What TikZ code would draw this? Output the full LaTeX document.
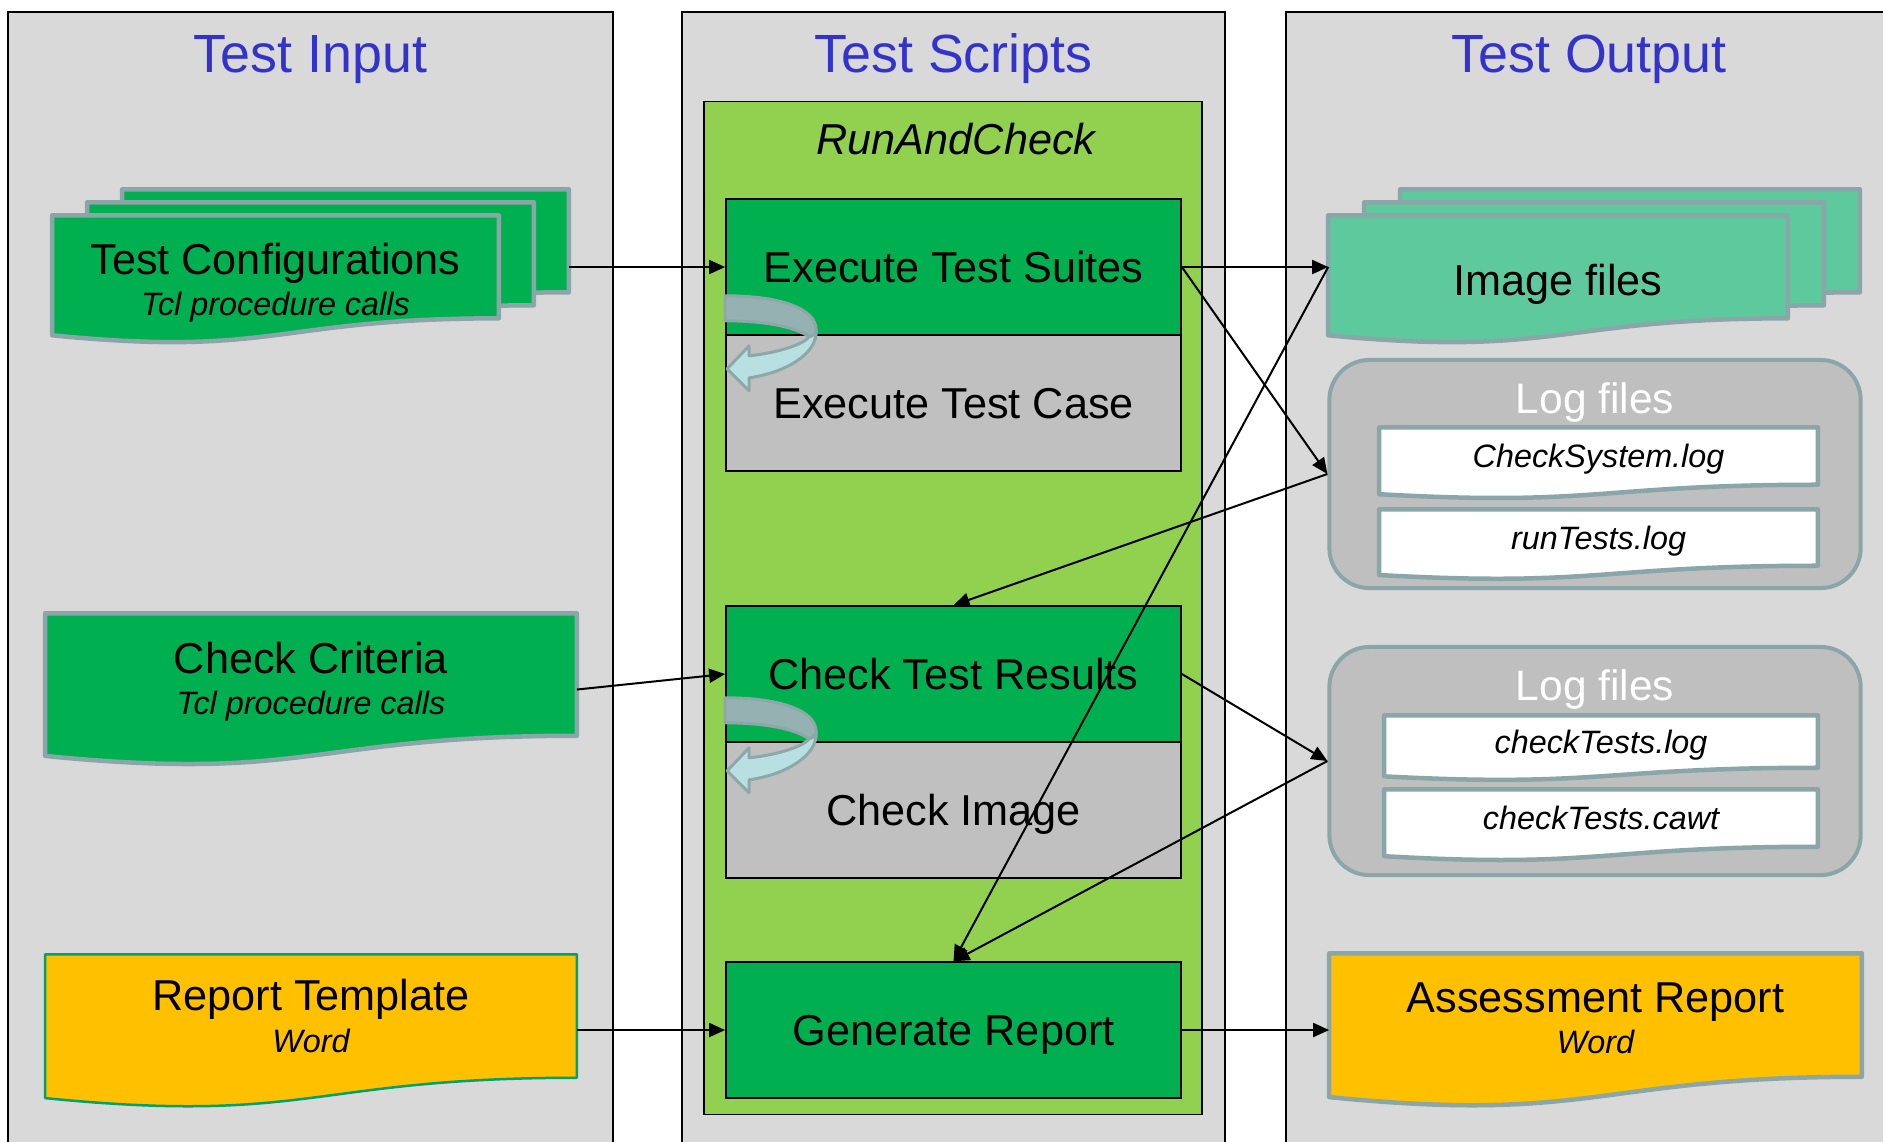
\documentclass[tikz,border=0pt]{standalone}
\usepackage{fontspec}
\setmainfont{Liberation Sans}
\usetikzlibrary{arrows.meta}
\usetikzlibrary{calc}

\definecolor{panelgray}{HTML}{D9D9D9}
\definecolor{titleblue}{HTML}{3333CC}
\definecolor{scriptgreen}{HTML}{92D050}
\definecolor{stepgreen}{HTML}{00B050}
\definecolor{casegray}{HTML}{C0C0C0}
\definecolor{sheetline}{HTML}{8AA6A8}
\definecolor{imagegreen}{HTML}{5FC99E}
\definecolor{loggray}{HTML}{BFBFBF}
\definecolor{wordyellow}{HTML}{FFC000}
\definecolor{templateline}{HTML}{00A070}
\definecolor{turnback}{HTML}{95B1B1}
\definecolor{turnfront}{HTML}{B8E0E2}
\definecolor{turnline}{HTML}{8EA8AA}

\pgfdeclarelayer{back}
\pgfdeclarelayer{sheets}
\pgfsetlayers{back,sheets,main}

\newcommand\headfont{\fontsize{15.3}{16}\selectfont}
\newcommand\stepfont{\fontsize{12.3}{11.7}\selectfont}
\newcommand\notefont{\fontsize{9.2}{11}\selectfont\itshape}
\newcommand\logfont{\fontsize{12.1}{13}\selectfont}
\newcommand\filefont{\fontsize{9.2}{11}\selectfont\itshape}
% lower the ink of a line, keep its box
\newcommand\sunk[2][0.03cm]{\raisebox{-#1}[\height][\depth]{#2}}

% sheet with a wavy lower edge, drawn from the anchors of a node
\newcommand\docwave[5]{%
  \draw[#2] (#1.north west) -- (#1.north east)
    -- ($(#1.north east)!#3!(#1.south east)$)
    .. controls ($(#1.north)!#3!(#1.south)$) and ($(#1.north)!#5!(#1.south)$)
    .. ($(#1.north west)!#4!(#1.south west)$) -- cycle;}
\newcommand\docpage[2]{\docwave{#1}{#2}{1}{1.1646}{1.380}}
\newcommand\docstack[2]{\docwave{#1}{#2}{0.802}{0.934}{1.107}}

% curved loop arrow at the left side of a box
\newcommand\turnarrow[1]{%
  \begin{scope}[shift={(#1)}]
    \draw[turnline, fill=turnback, line width=0.03cm, line join=round]
      (0,-40) .. controls (56,-40) and (91,-27) .. (91,-6)
      .. controls (91,-2) and (88,0) .. (84,1)
      .. controls (70,-9) and (40,-15) .. (0,-15) -- cycle;
    \draw[turnline, fill=turnfront, line width=0.03cm, line join=round]
      (91,-6) .. controls (93,18) and (60,37) .. (24,42)
      -- (24,55) -- (2,33) -- (24,10) -- (24,20)
      .. controls (52,17) and (78,9) .. (84,1)
      .. controls (88,0) and (91,-2) .. (91,-6) -- cycle;
  \end{scope}}

\begin{document}
\begin{tikzpicture}[x=0.01cm, y=-0.01cm]
\tikzset{
  panel/.style={draw=black, line width=0.018cm, fill=panelgray},
  heading/.style={anchor=base, text=titleblue, font=\headfont},
  stepbox/.style={draw=black, line width=0.015cm, fill=stepgreen,
    minimum width=4.55cm, minimum height=1.36cm, inner sep=0pt,
    font=\stepfont, text height=0.31cm, text depth=0pt},
  casebox/.style={stepbox, fill=casegray},
  sheet/.style={draw=sheetline, line width=0.045cm, line join=round},
  sheetnode/.style={inner sep=0pt, align=center, font=\stepfont},
  logbox/.style={draw=sheetline, line width=0.04cm, fill=loggray,
    rounded corners=0.4cm, minimum width=5.31cm, minimum height=2.28cm},
  logtitle/.style={anchor=base, text=white, font=\logfont},
  logfile/.style={inner sep=0pt, font=\filefont, text height=0.23cm, text depth=0pt},
  link/.style={-{Triangle[length=0.16cm, width=0.14cm]}, line width=0.02cm, black}
}
\useasboundingbox (0,0) rectangle (1883,1141);

%==========================================
\begin{pgfonlayer}{back}
\draw[panel] (8,12) rectangle (613,1180);
\draw[panel] (682,12) rectangle (1225,1180);
\draw[panel] (1286,12) rectangle (1920,1180);
\node[draw=black, line width=0.015cm, fill=scriptgreen, inner sep=0pt,
  minimum width=4.98cm, minimum height=10.12cm] (rc) at (953,608) {};
\node[logbox] (log1) at (1595,474) {};
\node[logbox] (log2) at (1595,761) {};
\end{pgfonlayer}

\node[heading] (inhead) at (310.5,72) {Test Input};
\node[heading] (scripthead) at (953.5,72) {Test Scripts};
\node[heading] (outhead) at (1589,72) {Test Output};
\node[anchor=base, font=\stepfont\itshape] (rctitle) at (956,154) {RunAndCheck};

%==========================================
% test scripts
\node[stepbox] (es) at (953.5,267) {Execute Test Suites};
\node[casebox] (ec) at (953.5,403) {Execute Test Case};
\node[stepbox] (ctr) at (953.5,674) {Check Test Results};
\node[casebox] (ci) at (953.5,810) {Check Image};
\node[stepbox] (gr) at (953.5,1030) {Generate Report};
\turnarrow{es.south west}
\turnarrow{$(ctr.south west)+(0,-5)$}

%==========================================
% test input
\node[sheetnode, minimum width=4.45cm, minimum height=1.27cm] (tc3) at (345.5,253.5) {};
\node[sheetnode, minimum width=4.45cm, minimum height=1.27cm] (tc2) at (310.5,266.5) {};
\node[sheetnode, minimum width=4.45cm, minimum height=1.27cm] (tc1) at (275.5,279.5)
  {\sunk{Test Configurations}\\\sunk{\notefont Tcl procedure calls}};
\node[sheetnode, minimum width=5.30cm, minimum height=1.21cm] (cc) at (311,674.5)
  {\sunk[0.07cm]{Check Criteria}\\\sunk[0.07cm]{\notefont Tcl procedure calls}};
\node[sheetnode, minimum width=5.30cm, minimum height=1.22cm] (rt) at (311,1016)
  {Report Template\\{\notefont Word}};

%==========================================
% test output
\node[sheetnode, minimum width=4.58cm, minimum height=1.27cm] (img3) at (1630,253.5) {};
\node[sheetnode, minimum width=4.58cm, minimum height=1.27cm] (img2) at (1594,266.5) {};
\node[sheetnode, minimum width=4.58cm, minimum height=1.27cm, text height=0.31cm,
  text depth=0pt] (img1) at (1558,279.5) {Image files};
\node[logtitle] (log1t) at (1595,413) {Log files};
\node[logfile, minimum width=4.37cm, minimum height=0.56cm] (csl) at (1598.5,456) {CheckSystem.log};
\node[logfile, minimum width=4.37cm, minimum height=0.55cm] (rtl) at (1598.5,537.5) {runTests.log};
\node[logtitle] (log2t) at (1595,700) {Log files};
\node[logfile, minimum width=4.32cm, minimum height=0.51cm] (ctl) at (1601,741.5) {checkTests.log};
\node[logfile, minimum width=4.32cm, minimum height=0.56cm] (ctc) at (1601,818) {checkTests.cawt};
\node[sheetnode, minimum width=5.31cm, minimum height=1.22cm] (ar) at (1595.5,1015)
  {\sunk{Assessment Report}\\\sunk{\notefont Word}};

\begin{pgfonlayer}{sheets}
\docstack{tc3}{sheet, fill=stepgreen}
\docstack{tc2}{sheet, fill=stepgreen}
\docstack{tc1}{sheet, fill=stepgreen}
\docpage{cc}{sheet, fill=stepgreen}
\docpage{rt}{sheet, draw=templateline, line width=0.025cm, fill=wordyellow}
\docstack{img3}{sheet, fill=imagegreen}
\docstack{img2}{sheet, fill=imagegreen}
\docstack{img1}{sheet, fill=imagegreen}
\docpage{csl}{sheet, fill=white}
\docpage{rtl}{sheet, fill=white}
\docpage{ctl}{sheet, fill=white}
\docpage{ctc}{sheet, fill=white}
\docpage{ar}{sheet, fill=wordyellow}
\end{pgfonlayer}

%==========================================
% connectors
\coordinate (imgin) at (es.east -| img1.west);
\draw[link] (es.west -| tc3.east) -- (es.west);
\draw[link] ([yshift=-0.15cm]cc.east) -- (ctr.west);
\draw[link] (gr.west -| rt.east) -- (gr.west);
\draw[link] (gr.east) -- (gr.east -| ar.west);
\draw[link] (es.east) -- (imgin);
\draw[link] (es.east) -- (log1.west);
\draw[link] (log1.west) -- (ctr.north);
\draw[link] (imgin) -- (gr.north);
\draw[link] (ctr.east) -- (log2.west);
\draw[link] (log2.west) -- (gr.north);
\end{tikzpicture}
\end{document}
